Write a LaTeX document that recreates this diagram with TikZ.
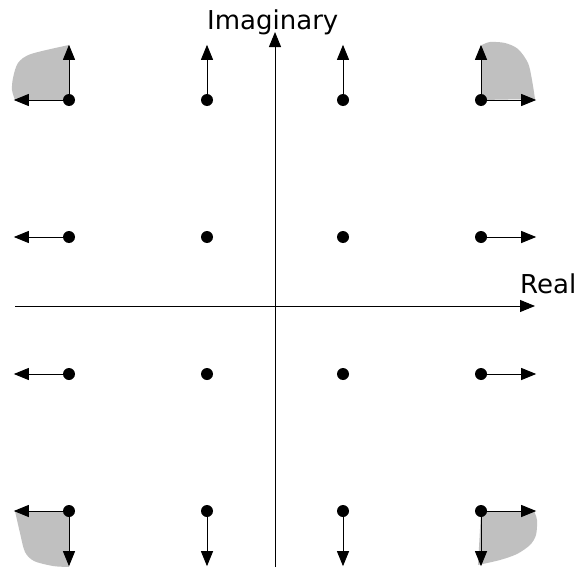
\documentclass[tikz,border=0pt]{standalone}
\usepackage{fontspec}
\setmainfont{DejaVu Sans}
\usetikzlibrary{positioning, arrows.meta}
\definecolor{blobgray}{HTML}{C0C0C0}

\begin{document}
\begin{tikzpicture}[x=1pt, y=-1pt,
    dot/.style={circle, fill=black, inner sep=0pt, minimum size=12pt},
    arr/.style={-{Triangle[length=15pt, width=12pt]}, line width=0.9pt},
    axis/.style={-{Triangle[length=15pt, width=12pt]}, line width=1pt},
    blob/.style={fill=blobgray},
    lbl/.style={font=\fontsize{26}{30}\selectfont, inner sep=0pt},
  ]
    \useasboundingbox (0,0) rectangle (579,570);

    % gray regions at the corners
    \fill[blob] (69,100) -- plot[smooth] coordinates {(15,100) (12,90) (13,78) (18,63) (31,54) (69,45)} -- cycle;
    \fill[blob] (481,100) -- plot[smooth] coordinates {(482,45) (490,42) (505,43) (518,49) (528,63) (532,80) (535,99)} -- cycle;
    \fill[blob] (69,511) -- plot[smooth] coordinates {(15,511) (20,533) (25,552) (34,561) (53,566) (69,567)} -- cycle;
    \fill[blob] (481,511) -- plot[smooth] coordinates {(534,511) (537,520) (536,535) (530,545) (517,554) (500,560) (478,565)} -- cycle;

    % axes
    \coordinate (xl) at (15,306);
    \coordinate (xr) at (535,306);
    \coordinate (yb) at (275,567);
    \coordinate (yt) at (275,32);
    \draw[axis] (xl) -- (xr);
    \draw[axis] (yb) -- (yt);
    \node[lbl, anchor=base west] (imag) at (207,29) {Imaginary};
    \node[lbl, anchor=base west] (real) at (520,293) {Real};

    % constellation points
    \foreach \c/\x in {a/69, b/207, c/343, d/481}
      \foreach \r/\y in {1/100, 2/237, 3/374, 4/511}
        \node[dot] (\c\r) at (\x,\y) {};

    % arrow ends
    \coordinate[above=49pt of a1] (a1n);
    \coordinate[left=49pt of a1] (a1w);
    \coordinate[above=49pt of b1] (b1n);
    \coordinate[above=49pt of c1] (c1n);
    \coordinate[above=49pt of d1] (d1n);
    \coordinate[right=49pt of d1] (d1e);
    \coordinate[left=49pt of a2] (a2w);
    \coordinate[right=49pt of d2] (d2e);
    \coordinate[left=49pt of a3] (a3w);
    \coordinate[right=49pt of d3] (d3e);
    \coordinate[below=49pt of a4] (a4s);
    \coordinate[left=49pt of a4] (a4w);
    \coordinate[below=49pt of b4] (b4s);
    \coordinate[below=49pt of c4] (c4s);
    \coordinate[below=49pt of d4] (d4s);
    \coordinate[right=49pt of d4] (d4e);

    \draw[arr] (a1) -- (a1n);
    \draw[arr] (a1) -- (a1w);
    \draw[arr] (b1) -- (b1n);
    \draw[arr] (c1) -- (c1n);
    \draw[arr] (d1) -- (d1n);
    \draw[arr] (d1) -- (d1e);
    \draw[arr] (a2) -- (a2w);
    \draw[arr] (d2) -- (d2e);
    \draw[arr] (a3) -- (a3w);
    \draw[arr] (d3) -- (d3e);
    \draw[arr] (a4) -- (a4s);
    \draw[arr] (a4) -- (a4w);
    \draw[arr] (b4) -- (b4s);
    \draw[arr] (c4) -- (c4s);
    \draw[arr] (d4) -- (d4s);
    \draw[arr] (d4) -- (d4e);
  \end{tikzpicture}
\end{document}
